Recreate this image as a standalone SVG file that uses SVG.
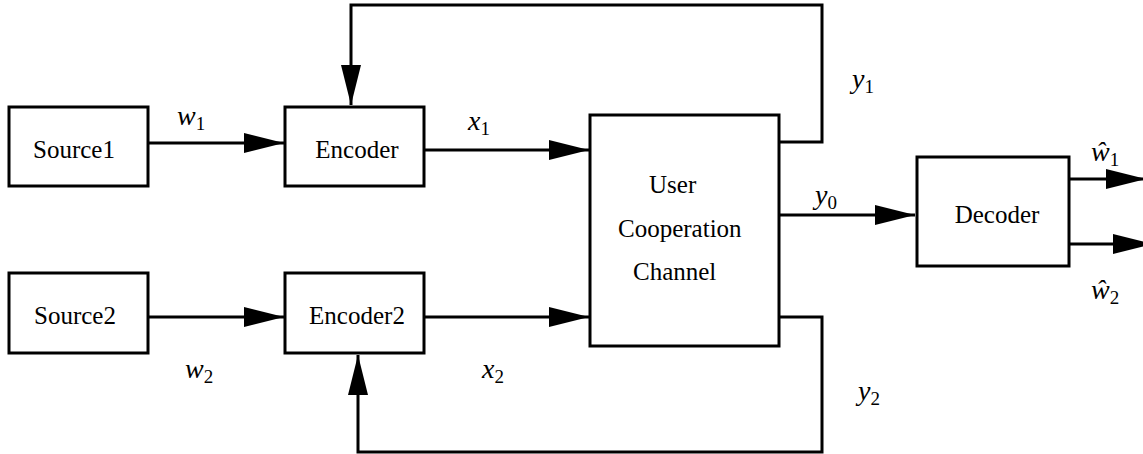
<svg xmlns="http://www.w3.org/2000/svg" width="1143" height="454" viewBox="0 0 1143 454">
<style>
.box{fill:#fff;stroke:#000;stroke-width:3}
.lbl{font-family:"Liberation Serif","Times New Roman",serif;font-size:25px;fill:#000}
.m{font-family:"Liberation Serif","Times New Roman",serif;font-style:italic;font-size:28px;fill:#000}
.sub{font-style:normal;font-size:19px}
.wire{fill:none;stroke:#000;stroke-width:3;marker-end:url(#ah)}
</style>
<defs>
<marker id="ah" viewBox="0 0 40 20" refX="40" refY="10" markerWidth="40" markerHeight="20" markerUnits="userSpaceOnUse" orient="auto">
<path d="M0,0 L40,10 L0,20 z" fill="#000"/>
</marker>
</defs>
<rect width="1143" height="454" fill="#fff"/>
<g id="connectors">
<path class="wire" d="M148,143 H284"/>
<path class="wire" d="M424,150 H589"/>
<path class="wire" d="M778,142 H822 V5 H351 V105"/>
<path class="wire" d="M148,317 H284"/>
<path class="wire" d="M424,317 H589"/>
<path class="wire" d="M778,317 H822 V452 H358 V355"/>
<path class="wire" d="M778,215 H915"/>
<path class="wire" d="M1069,179 H1146"/>
<path class="wire" d="M1069,244 H1153"/>
</g>
<g id="source1"><rect class="box" x="9" y="107" width="139" height="79"/><text class="lbl" x="74" y="158" text-anchor="middle">Source1</text></g>
<g id="encoder"><rect class="box" x="285" y="107" width="139" height="79"/><text class="lbl" x="357" y="158" text-anchor="middle">Encoder</text></g>
<g id="source2"><rect class="box" x="9" y="273" width="139" height="80"/><text class="lbl" x="75" y="324" text-anchor="middle">Source2</text></g>
<g id="encoder2"><rect class="box" x="285" y="273" width="139" height="80"/><text class="lbl" x="357" y="324" text-anchor="middle">Encoder2</text></g>
<g id="channel"><rect class="box" x="590" y="115" width="189" height="231"/>
<text class="lbl" x="649" y="193">User</text>
<text class="lbl" x="618" y="237">Cooperation</text>
<text class="lbl" x="633" y="280">Channel</text></g>
<g id="decoder"><rect class="box" x="917" y="157" width="152" height="109"/><text class="lbl" x="997" y="223" text-anchor="middle">Decoder</text></g>
<g id="labels">
<text class="m" x="177" y="125">w<tspan class="sub" dy="5">1</tspan></text>
<text class="m" x="468" y="130">x<tspan class="sub" dy="5">1</tspan></text>
<text class="m" x="852" y="88">y<tspan class="sub" dy="5">1</tspan></text>
<text class="m" x="815" y="204">y<tspan class="sub" dy="5">0</tspan></text>
<text class="m" x="185" y="378">w<tspan class="sub" dy="5">2</tspan></text>
<text class="m" x="482" y="378">x<tspan class="sub" dy="5">2</tspan></text>
<text class="m" x="858" y="400">y<tspan class="sub" dy="5">2</tspan></text>
<text class="m" x="1091" y="161">ŵ<tspan class="sub" dy="5">1</tspan></text>
<text class="m" x="1091" y="299">ŵ<tspan class="sub" dy="5">2</tspan></text>
</g>
</svg>
